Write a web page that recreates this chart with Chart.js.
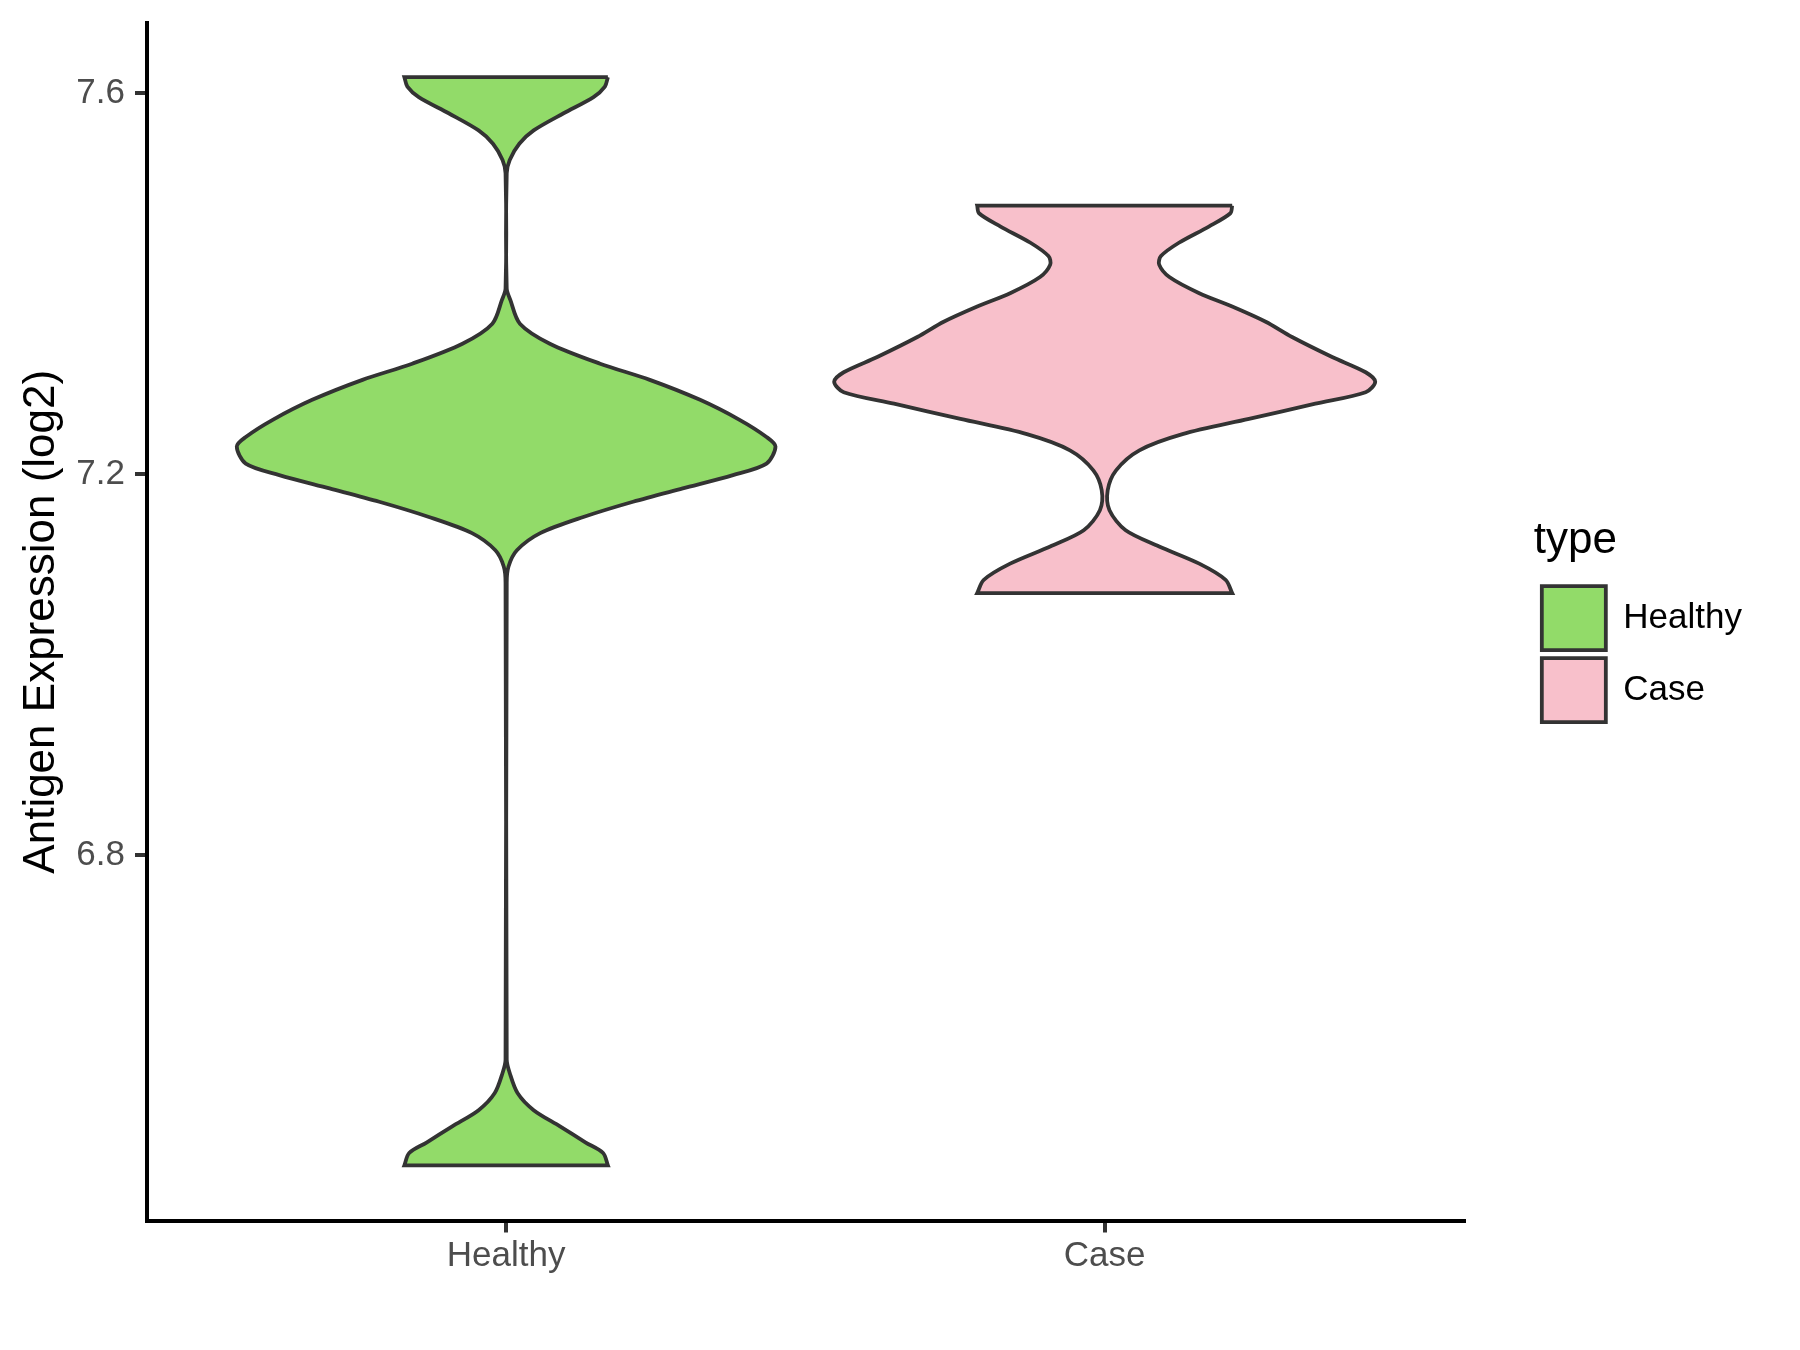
<!DOCTYPE html>
<html>
<head>
<meta charset="utf-8">
<script src="https://cdn.jsdelivr.net/npm/chart.js@4.4.1/dist/chart.umd.min.js"></script>
<style>
  html, body { margin: 0; padding: 0; background: #fff; }
  #wrap { width: 1800px; height: 1350px; }
</style>
</head>
<body>
<div id="wrap"><canvas id="violinChart" width="1800" height="1350"></canvas></div>
<script>
// categories and legend
const categories = ['Healthy', 'Case'];
const yTicks = [6.8, 7.2, 7.6];

// violin outlines: expression value (top to bottom) and half width
const healthyValues = [7.617, 7.607, 7.596, 7.579, 7.561, 7.547, 7.530, 7.516,
  7.395, 7.383, 7.358, 7.337, 7.316, 7.299, 7.278, 7.257, 7.239, 7.229,
  7.211, 7.199, 7.185, 7.171, 7.155, 7.138, 7.120, 7.103, 7.086,
  6.585, 6.571, 6.550, 6.532, 6.515, 6.498, 6.487, 6.474];
const healthyWidths = [0.170, 0.165, 0.146, 0.096, 0.046, 0.022, 0.006, 0.001,
  0.001, 0.007, 0.023, 0.073, 0.157, 0.240, 0.324, 0.390, 0.435, 0.450,
  0.435, 0.379, 0.295, 0.212, 0.129, 0.057, 0.018, 0.004, 0.001,
  0.001, 0.006, 0.019, 0.046, 0.090, 0.133, 0.162, 0.170];

const caseValues = [7.482, 7.474, 7.460, 7.443, 7.429, 7.420, 7.407, 7.390, 7.376,
  7.360, 7.344, 7.323, 7.307, 7.297, 7.286, 7.274, 7.258, 7.242, 7.225,
  7.204, 7.183, 7.162, 7.141, 7.124, 7.106, 7.089, 7.075];
const caseWidths = [0.213, 0.210, 0.174, 0.124, 0.094, 0.091, 0.108, 0.158, 0.213,
  0.269, 0.313, 0.380, 0.436, 0.452, 0.436, 0.352, 0.241, 0.130, 0.058,
  0.019, 0.005, 0.008, 0.035, 0.091, 0.158, 0.202, 0.213];

const fillColors = ['#92DB69', '#F8C0CB'];

// closed outline: down the right side, back up the left side.
// corner points are doubled so the flat ends stay straight
function violinOutline(center, values, widths) {
  const right = values.map((v, i) => ({ x: center + widths[i], y: v }));
  const left = values.map((v, i) => ({ x: center - widths[i], y: v })).reverse();
  const rTop = right[0], rBot = right[right.length - 1];
  const lBot = left[0], lTop = left[left.length - 1];
  return [rTop, ...right, rBot, lBot, ...left, lTop, rTop, rTop];
}

const fontFamily = '"Liberation Sans", Arial, Helvetica, sans-serif';
Chart.defaults.font.family = fontFamily;

const ctx = document.getElementById('violinChart').getContext('2d');
new Chart(ctx, {
  type: 'scatter',
  data: {
    datasets: [
      {
        label: categories[0],
        data: violinOutline(1, healthyValues, healthyWidths),
        showLine: true,
        fill: 'shape',
        tension: 0.3,
        backgroundColor: fillColors[0],
        borderColor: '#333333',
        borderWidth: 3.8,
        pointRadius: 0,
        pointHoverRadius: 0
      },
      {
        label: categories[1],
        data: violinOutline(2, caseValues, caseWidths),
        showLine: true,
        fill: 'shape',
        tension: 0.3,
        backgroundColor: fillColors[1],
        borderColor: '#333333',
        borderWidth: 3.8,
        pointRadius: 0,
        pointHoverRadius: 0
      }
    ]
  },
  options: {
    responsive: false,
    animation: false,
    events: [],
    layout: { padding: { left: 11, top: 23, right: 48, bottom: 69.5 } },
    scales: {
      x: {
        type: 'linear',
        min: 0.4,
        max: 2.6,
        afterBuildTicks: (scale) => { scale.ticks = categories.map((c, i) => ({ value: i + 1 })); },
        afterFit: (scale) => { scale.paddingLeft = 0; scale.paddingRight = 0; },
        ticks: {
          callback: (value) => categories[Math.round(value) - 1],
          color: '#4D4D4D',
          font: { size: 35 },
          padding: 3,
          maxRotation: 0,
          autoSkip: false
        },
        grid: { display: true, drawOnChartArea: false, drawTicks: true, tickLength: 12, color: '#333333', lineWidth: 4 },
        border: { display: true, color: '#000000', width: 4 }
      },
      y: {
        min: 6.4161,
        max: 7.6738,
        afterBuildTicks: (scale) => { scale.ticks = yTicks.map(v => ({ value: v })); },
        afterFit: (scale) => {
          scale.width = 136;
          scale.paddingTop = 0;
          scale.paddingBottom = 0;
        },
        ticks: {
          callback: (value) => value.toFixed(1),
          color: '#4D4D4D',
          font: { size: 35 },
          padding: 10
        },
        grid: { display: true, drawOnChartArea: false, drawTicks: true, tickLength: 12, color: '#333333', lineWidth: 4 },
        border: { display: true, color: '#000000', width: 4 },
        title: {
          display: true,
          text: 'Antigen Expression (log2)',
          color: '#000000',
          font: { size: 44 },
          padding: { top: 4, bottom: 9 }
        }
      },
      // empty spacer between the panel and the legend
      gap: {
        type: 'linear',
        position: 'right',
        display: true,
        grid: { display: false },
        border: { display: false },
        ticks: { display: false },
        afterFit: (scale) => { scale.width = 70; }
      }
    },
    plugins: {
      legend: {
        display: true,
        position: 'right',
        align: 'center',
        fullSize: false,
        maxWidth: 227,
        title: {
          display: true,
          text: 'type',
          position: 'start',
          color: '#000000',
          font: { size: 44 },
          padding: { top: 6, bottom: 6 }
        },
        labels: {
          boxWidth: 64,
          boxHeight: 64,
          padding: 8,
          color: '#000000',
          font: { size: 35 }
        }
      },
      tooltip: { enabled: false }
    }
  }
});
</script>
</body>
</html>
